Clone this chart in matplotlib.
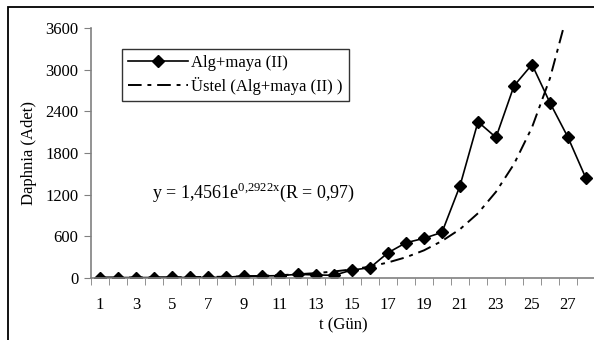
import matplotlib.pyplot as plt
from matplotlib.patches import Rectangle

days = list(range(1, 29))
daphnia = [2, 2, 2, 2, 3, 3, 4, 5, 25, 25, 30, 49, 39, 35, 111, 144, 360, 505,
           568, 655, 1327, 2250, 2025, 2769, 3077, 2524, 2025, 1433]
# exponential trend line
trend = [2, 3, 3, 5, 6, 8, 11, 14, 19, 27, 36, 50, 66, 90, 120, 160, 220, 295,
         395, 530, 700, 930, 1240, 1640, 2170, 2880, 3850, 5150]
xtick_labels = [str(d) for d in range(1, 29, 2)]

plt.rcParams['font.family'] = 'Liberation Serif'
plt.rcParams['font.size'] = 12
plt.rcParams['mathtext.fontset'] = 'custom'
plt.rcParams['mathtext.rm'] = 'Liberation Serif'

fig = plt.figure(figsize=(5.94, 3.40), dpi=100)
ax = fig.add_axes([91 / 594, 1 - 277.7 / 340, 504 / 594, (277.7 - 28.3) / 340])

ax.plot(days, daphnia, color='black', lw=1.2, marker='D', markersize=6.5,
        label='Alg+maya (II)')
ax.plot(days, trend, color='black', lw=1.4, dashes=(7, 3, 2, 3),
        label='Üstel (Alg+maya (II) )')

ax.set_xlim(0.5, 28.5)
ax.set_ylim(0, 3600)
ax.set_yticks(range(0, 3601, 600))
ax.set_xticks(range(1, 29, 2))
ax.set_xticklabels(xtick_labels)
ax.set_xticks([d + 0.5 for d in range(0, 29)], minor=True)
ax.tick_params(axis='x', which='major', length=0, pad=14)
ax.tick_params(axis='x', which='minor', length=5, direction='out', color='#808080')
ax.tick_params(axis='y', length=5, direction='out', color='#808080', pad=4)

for s in ['top', 'right']:
    ax.spines[s].set_visible(False)
for s in ['left', 'bottom']:
    ax.spines[s].set_color('#808080')
    ax.spines[s].set_linewidth(1.2)

ax.set_ylabel('Daphnia (Adet)', labelpad=6)
ax.set_xlabel('t (Gün)', labelpad=3)

fig.text(152 / 594, 1 - 192 / 340, r'y = 1,4561e$^{\mathregular{0{,}2922x}}$(R = 0,97)',
         ha='left', va='center', fontsize=13)

leg = ax.legend(loc='upper left', bbox_to_anchor=((122 - 91) / 504, (277.7 - 49) / 249.4),
                borderaxespad=0, frameon=True, fancybox=False, edgecolor='black',
                borderpad=0.35, handlelength=3.6, handletextpad=0.2, labelspacing=0.35,
                fontsize=12)
leg.get_frame().set_linewidth(1.0)

fig.add_artist(Rectangle((8 / 594, -0.1), 1.2, 1 - 7 / 340 + 0.1, transform=fig.transFigure,
                         fill=False, edgecolor='black', lw=1.3, clip_on=False))

fig.savefig('out.png', dpi=100)
